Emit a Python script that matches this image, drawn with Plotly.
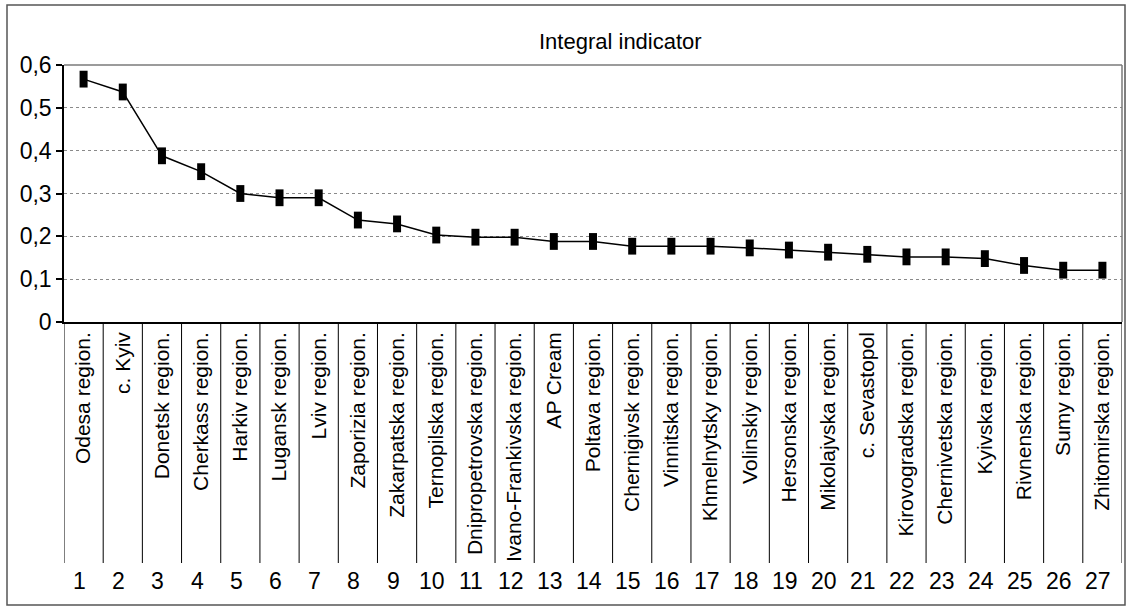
import plotly.graph_objects as go

# Regions ranked by the integral indicator
regions = [
    "Odesa region.", "c. Kyiv", "Donetsk region.", "Cherkass region.",
    "Harkiv region.", "Lugansk region.", "Lviv region.", "Zaporizia region.",
    "Zakarpatska region.", "Ternopilska region.", "Dnipropetrovska region.",
    "Ivano-Frankivska region.", "AP Cream", "Poltava region.",
    "Chernigivsk region.", "Vinnitska region.", "Khmelnytsky region.",
    "Volinskiy region.", "Hersonska region.", "Mikolajvska region.",
    "c. Sevastopol", "Kirovogradska region.", "Chernivetska region.",
    "Kyivska region.", "Rivnenska region.", "Sumy region.", "Zhitomirska region.",
]
ranks = list(range(1, 28))
indicator = [
    0.567, 0.537, 0.388, 0.351, 0.300, 0.290, 0.290, 0.238, 0.229,
    0.203, 0.198, 0.198, 0.188, 0.188, 0.177, 0.177, 0.177, 0.173,
    0.168, 0.163, 0.158, 0.152, 0.152, 0.148, 0.132, 0.121, 0.121,
]
y_ticks = [0, 0.1, 0.2, 0.3, 0.4, 0.5, 0.6]
y_tick_text = ["0", "0,1", "0,2", "0,3", "0,4", "0,5", "0,6"]
title_text = "Integral indicator"

W, H = 1126, 607
L, R, T, B = 64, 4, 65, 285
FONT = "Liberation Sans, Arial, sans-serif"

plot_w = W - L - R
plot_h = H - T - B


def px_x(p):
    return (p - L) / plot_w


def px_y(p):
    return (H - B - p) / plot_h


fig = go.Figure()
fig.add_trace(go.Scatter(
    x=ranks, y=indicator, mode="lines+markers",
    line=dict(color="black", width=1.5),
    marker=dict(symbol="line-ns", size=12, color="black",
                line=dict(color="black", width=8)),
    hoverinfo="x+y", showlegend=False,
))

shapes = []
# outer frame
shapes.append(dict(type="rect", xref="paper", yref="paper",
                   x0=px_x(7), x1=px_x(1125), y0=px_y(605), y1=px_y(5),
                   line=dict(color="#555555", width=1.5), layer="below"))
# gray top and right borders of the plot area
shapes.append(dict(type="line", xref="paper", yref="paper",
                   x0=0, x1=1, y0=1, y1=1, line=dict(color="#7a7a7a", width=1.5)))
shapes.append(dict(type="line", xref="paper", yref="paper",
                   x0=1, x1=1, y0=0, y1=1, line=dict(color="#7a7a7a", width=1.5)))
# table dividers under the axis
for k in range(0, 28):
    shapes.append(dict(type="line", xref="x", yref="paper",
                       x0=k + 0.5, x1=k + 0.5, y0=0, y1=px_y(563),
                       line=dict(color="black", width=1)))

annotations = [dict(text=title_text, xref="paper", yref="paper",
                    x=px_x(620), y=px_y(41), xanchor="center", yanchor="middle",
                    showarrow=False,
                    font=dict(family=FONT, size=22, color="black"))]
for r in ranks:
    annotations.append(dict(text=str(r), xref="x", yref="paper", x=r,
                            y=px_y(581), xanchor="center", yanchor="middle",
                            showarrow=False, xshift=-4,
                            font=dict(family=FONT, size=23, color="black")))

fig.update_layout(
    width=W, height=H,
    margin=dict(l=L, r=R, t=T, b=B),
    paper_bgcolor="white", plot_bgcolor="white",
    shapes=shapes, annotations=annotations,
    font=dict(family=FONT, color="black"),
    xaxis=dict(
        range=[0.5, 27.5], tickmode="array", tickvals=ranks, ticktext=regions,
        tickangle=-90, tickfont=dict(family=FONT, size=21, color="black"),
        showgrid=False, zeroline=False, showline=True, linecolor="black",
        linewidth=1.5, ticks="", fixedrange=True,
    ),
    yaxis=dict(
        range=[0, 0.6], tickmode="array", tickvals=y_ticks, ticktext=y_tick_text,
        tickfont=dict(family=FONT, size=23, color="black"),
        showgrid=True, gridcolor="#8a8a8a", gridwidth=1, griddash="dot",
        zeroline=False, showline=True, linecolor="black", linewidth=1.5,
        ticks="outside", ticklen=6, tickcolor="black", tickwidth=1.5,
        fixedrange=True,
    ),
)

fig.write_html("out.html")
